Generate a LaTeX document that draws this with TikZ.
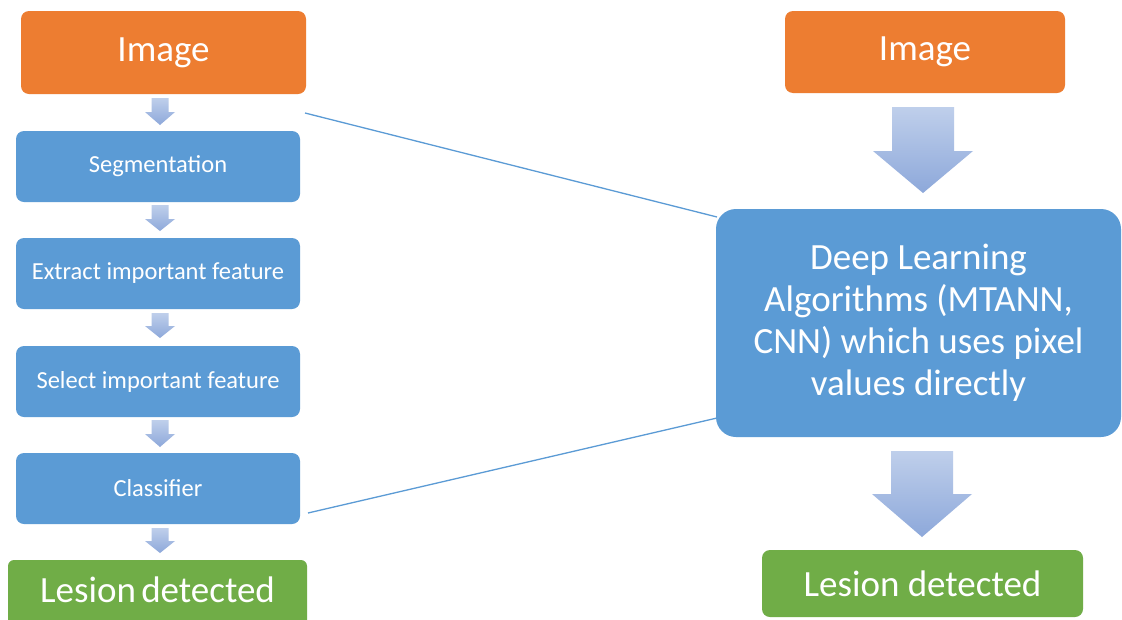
\documentclass[tikz,border=0pt]{standalone}
\usepackage{fontspec}
\setmainfont{Carlito}
\definecolor{orng}{HTML}{ED7D31}
\definecolor{blu}{HTML}{5B9BD5}
\definecolor{grn}{HTML}{70AD47}
\definecolor{arrtop}{HTML}{BFCFEB}
\definecolor{arrbot}{HTML}{8DA8DA}
\definecolor{conn}{HTML}{5B9BD5}
\newcommand\blkarrow[6]{%
  \shade[top color=arrtop, bottom color=arrbot]
    (#1-#5,#2) -- (#1+#5,#2) -- (#1+#5,#3) -- (#1+#6,#3) -- (#1,#4)
    -- (#1-#6,#3) -- (#1-#5,#3) -- cycle;}
\begin{document}
\begin{tikzpicture}[x=1pt,y=-1pt,
  box/.style={rectangle, rounded corners=8pt, text=white, inner sep=0pt, align=center},
  bigtxt/.style={font=\fontsize{37}{42}\selectfont},
  smalltxt/.style={font=\fontsize{24.5}{29}\selectfont},
  step box/.style={box, fill=blu, smalltxt, minimum width=284pt, minimum height=71pt},
  connline/.style={draw=conn, line width=1.3pt}]
\useasboundingbox (0,0) rectangle (1122,619);
\fill[white] (0,0) rectangle (1122,619);
% left column
\node[box, fill=orng, bigtxt, minimum width=285pt, minimum height=83pt] (img1) at (163.5,52.5) {Image};
\node[step box] (seg) at (158,166.5) {Segmentation};
\node[step box] (ext) at (158,273.5) {Extract important feature};
\node[step box] (sel) at (158,381.5) {Select important feature};
\node[step box] (cls) at (158,488.5) {Classifier};
\fill[grn, rounded corners=6pt] (8,560) rectangle (307,632);
\node[box, bigtxt, minimum width=299pt, minimum height=58pt] (les1) at (157.5,590) {Lesion\hspace{-3pt} detected};
\blkarrow{160}{98}{112}{125}{8.5}{15}
\blkarrow{160}{205}{219}{231}{8.5}{15}
\blkarrow{160}{313}{326}{338}{8.5}{15}
\blkarrow{160}{420}{434}{447}{8.5}{15}
\blkarrow{160}{528}{541}{553}{8.5}{15}
% right column
\node[box, fill=orng, bigtxt, minimum width=280pt, minimum height=82pt] (img2) at (925,52) {Image};
\node[box, fill=blu, bigtxt, rounded corners=20pt, minimum width=405pt, minimum height=228pt] (deep) at (918.5,323)
  {Deep Learning\\Algorithms (MTANN,\\CNN) which uses pixel\\values directly};
\node[box, fill=grn, bigtxt, minimum width=321pt, minimum height=67pt] (les2) at (922.5,583.5) {Lesion detected};
\blkarrow{923}{107}{151}{193}{31}{50}
\blkarrow{922}{451}{494}{537}{31}{50}
% connector lines
\coordinate (c1) at (305,113);
\coordinate (c2) at (308,513);
\coordinate (d1) at (717,217);
\coordinate (d2) at (717,418);
\draw[connline] (c1) -- (d1);
\draw[connline] (c2) -- (d2);
\end{tikzpicture}
\end{document}
